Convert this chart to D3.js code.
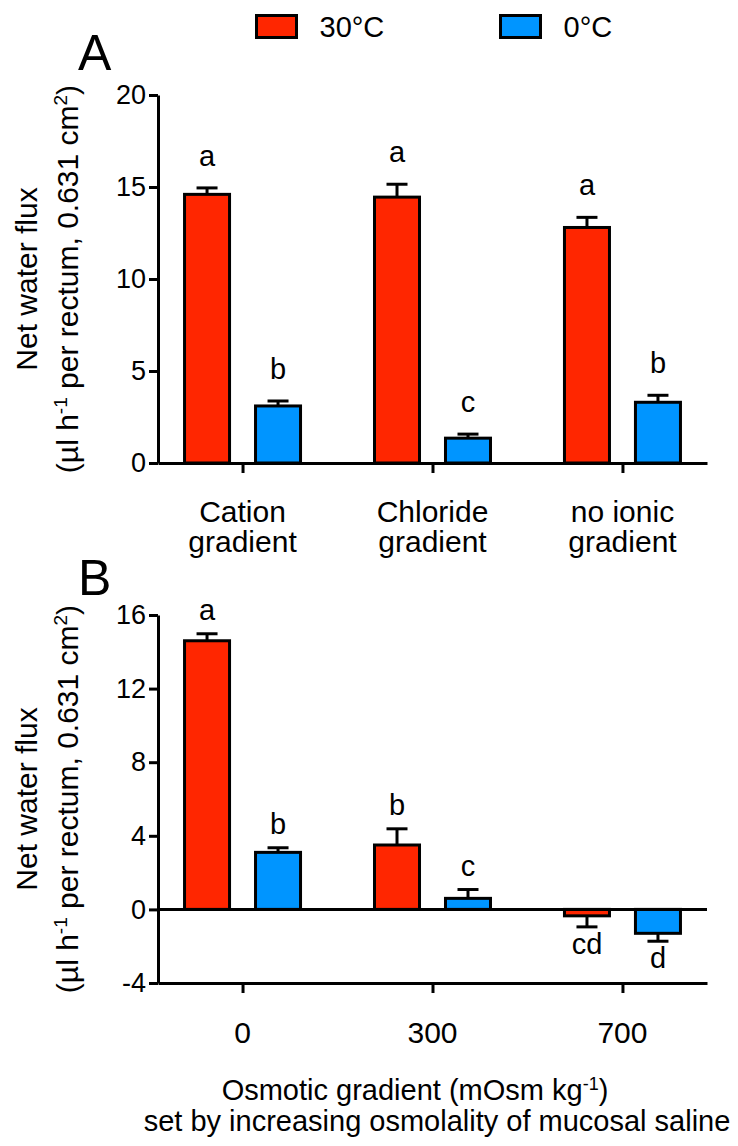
<!DOCTYPE html>
<html>
<head>
<meta charset="utf-8">
<script src="https://cdn.jsdelivr.net/npm/d3@7"></script>
<style>
  html, body { margin: 0; padding: 0; background: #fff; }
  svg { display: block; }
  text { font-family: "Liberation Sans", Arial, Helvetica, sans-serif; fill: #000; }
</style>
</head>
<body>
<svg id="chart" width="738" height="1146"></svg>
<script>
// ---------- data ----------
const seriesNames = ["30°C", "0°C"];
const seriesColors = ["#ff2600", "#0095ff"];

// Panel A
const categoriesA = ["Cation gradient", "Chloride gradient", "no ionic gradient"];
const warmA = [14.6, 14.45, 12.8];
const warmA_se = [0.35, 0.7, 0.55];
const coldA = [3.1, 1.35, 3.3];
const coldA_se = [0.27, 0.22, 0.38];
const warmA_letters = ["a", "a", "a"];
const coldA_letters = ["b", "c", "b"];
const ticksA = [0, 5, 10, 15, 20];

// Panel B
const categoriesB = ["0", "300", "700"];
const warmB = [14.6, 3.5, -0.35];
const warmB_se = [0.38, 0.88, 0.6];
const coldB = [3.1, 0.6, -1.3];
const coldB_se = [0.25, 0.48, 0.43];
const warmB_letters = ["a", "b", "cd"];
const coldB_letters = ["b", "c", "d"];
const ticksB = [-4, 0, 4, 8, 12, 16];

// ---------- drawing ----------
const svg = d3.select("#chart");
const FONT = 30;
const left = 158, right = 707;

function buildRows(cats, warm, warmSe, cold, coldSe, wl, cl) {
  const rows = [];
  cats.forEach((c, i) => {
    rows.push({cat: c, s: seriesNames[0], col: seriesColors[0], v: warm[i], se: warmSe[i], lab: wl[i]});
    rows.push({cat: c, s: seriesNames[1], col: seriesColors[1], v: cold[i], se: coldSe[i], lab: cl[i]});
  });
  return rows;
}

function panel(opts) {
  const g = svg.append("g");
  const x = d3.scalePoint().domain(opts.cats).range([left, right]).padding(0.445);
  const xs = d3.scaleBand().domain(seriesNames).range([-58, 58]).paddingInner(0.366).paddingOuter(0);
  const y = d3.scaleLinear().domain(opts.domain).range(opts.range);

  const rows = opts.rows;
  const bx = d => x(d.cat) + xs(d.s);
  g.selectAll("rect.bar").data(rows).join("rect")
    .attr("class", "bar")
    .attr("x", bx)
    .attr("width", xs.bandwidth())
    .attr("y", d => Math.min(y(d.v), y(0)))
    .attr("height", d => Math.abs(y(d.v) - y(0)))
    .attr("fill", d => d.col)
    .attr("stroke", "#000").attr("stroke-width", 3);

  // error bars (one-sided, away from zero)
  const cx = d => bx(d) + xs.bandwidth() / 2;
  const tip = d => d.v >= 0 ? d.v + d.se : d.v - d.se;
  g.selectAll("line.eb").data(rows).join("line")
    .attr("x1", cx).attr("x2", cx)
    .attr("y1", d => y(d.v)).attr("y2", d => y(tip(d)))
    .attr("stroke", "#000").attr("stroke-width", 3);
  g.selectAll("line.cap").data(rows).join("line")
    .attr("x1", d => cx(d) - 10.5).attr("x2", d => cx(d) + 10.5)
    .attr("y1", d => y(tip(d))).attr("y2", d => y(tip(d)))
    .attr("stroke", "#000").attr("stroke-width", 3);

  // significance letters
  g.selectAll("text.sig").data(rows).join("text")
    .attr("x", cx)
    .attr("y", d => d.v >= 0 ? y(tip(d)) - opts.sigGap : y(tip(d)) + 27)
    .attr("text-anchor", "middle")
    .attr("font-size", 29)
    .text(d => d.lab);

  // y axis
  const ya = g.append("g").attr("transform", `translate(${left},0)`)
    .call(d3.axisLeft(y).tickValues(opts.ticks).tickSize(9).tickSizeOuter(0).tickPadding(3)
      .tickFormat(d => String(d)));
  ya.selectAll("path, line").attr("stroke", "#000").attr("stroke-width", 3);
  ya.selectAll("text").attr("font-size", 27).attr("font-family", "Liberation Sans, Arial, sans-serif").attr("fill", "#000");

  // zero line when the axis does not start at zero
  if (opts.domain[0] < 0) {
    g.append("line").attr("x1", left).attr("x2", right)
      .attr("y1", y(0)).attr("y2", y(0))
      .attr("stroke", "#000").attr("stroke-width", 3);
  }
  // bottom axis
  const xa = g.append("g").attr("transform", `translate(0,${y(opts.domain[0])})`)
    .call(d3.axisBottom(x).tickSize(10).tickSizeOuter(0).tickFormat(""));
  xa.selectAll("path, line").attr("stroke", "#000").attr("stroke-width", 3);

  // category labels
  const labs = g.selectAll("text.cat").data(opts.cats).join("text")
    .attr("text-anchor", "middle").attr("font-size", FONT)
    .attr("x", d => x(d)).attr("y", opts.catY);
  labs.each(function(d) {
    const t = d3.select(this);
    const k = d.lastIndexOf(" ");
    const lines = k > 0 ? [d.slice(0, k), d.slice(k + 1)] : [d];
    lines.forEach((ln, i) => t.append("tspan").attr("x", x(d)).attr("dy", i ? 30 : 0).text(ln));
  });

  // y label
  const yc = (opts.range[0] + opts.range[1]) / 2;
  g.append("text").attr("transform", `translate(37,${yc}) rotate(-90)`)
    .attr("text-anchor", "middle").attr("font-size", FONT).text("Net water flux");
  const l2 = g.append("text").attr("transform", `translate(78,${yc}) rotate(-90)`)
    .attr("text-anchor", "middle").attr("font-size", FONT);
  l2.append("tspan").text("(µl h");
  l2.append("tspan").attr("dy", -11).attr("font-size", 19).text("-1");
  l2.append("tspan").attr("dy", 11).text(" per rectum, 0.631 cm");
  l2.append("tspan").attr("dy", -11).attr("font-size", 19).text("2");
  l2.append("tspan").attr("dy", 11).text(")");

  // panel letter
  g.append("text").attr("x", opts.letterX).attr("y", opts.letterY)
    .attr("font-size", 50).text(opts.letter);
}

panel({
  cats: categoriesA,
  rows: buildRows(categoriesA, warmA, warmA_se, coldA, coldA_se, warmA_letters, coldA_letters),
  domain: [0, 20], range: [463, 95], ticks: ticksA,
  catY: 522, sigGap: 22, letter: "A", letterX: 78, letterY: 70
});

panel({
  cats: categoriesB,
  rows: buildRows(categoriesB, warmB, warmB_se, coldB, coldB_se, warmB_letters, coldB_letters),
  domain: [-4, 16], range: [983, 615], ticks: ticksB,
  catY: 1043, sigGap: 14, letter: "B", letterX: 78, letterY: 595
});

// x axis title for panel B
const t1 = svg.append("text").attr("x", 415).attr("y", 1100).attr("text-anchor", "middle").attr("font-size", 29);
t1.append("tspan").text("Osmotic gradient (mOsm kg");
t1.append("tspan").attr("dy", -10).attr("font-size", 18).text("-1");
t1.append("tspan").attr("dy", 10).text(")");
svg.append("text").attr("x", 437).attr("y", 1131).attr("text-anchor", "middle").attr("font-size", 29)
  .text("set by increasing osmolality of mucosal saline");

// legend
const leg = svg.append("g");
const legX = [256.5, 500.5];
seriesNames.forEach((s, i) => {
  leg.append("rect").attr("x", legX[i]).attr("y", 15.5).attr("width", 40).attr("height", 22)
    .attr("fill", seriesColors[i]).attr("stroke", "#000").attr("stroke-width", 3);
  leg.append("text").attr("x", legX[i] + 63).attr("y", 37).attr("font-size", 29).text(s);
});
</script>
</body>
</html>
